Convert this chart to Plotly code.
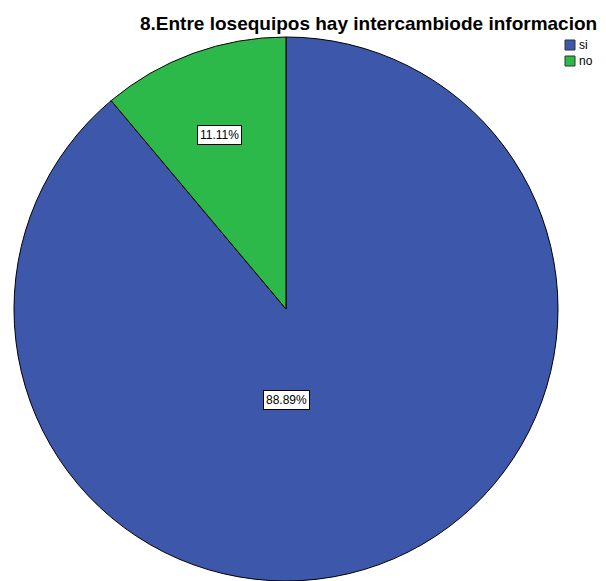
import math
import plotly.graph_objects as go

labels = ["si", "no"]
counts = [8, 1]
colors = ["#3d58ab", "#2db84a"]
title_text = "8.Entre losequipos hay intercambiode informacion"
label_radius = [0.37, 0.72]

# browser body margin of 8px shifts the figure; compensate
W, H = 598, 573
L, R, T, B = 3, 45, 29, 0
pw, ph = W - L - R, H - T - B
rad = min(pw, ph) / 2

def px(fx):
    return (fx - L) / pw

def py(fy):
    return 1 - (fy - T) / ph

total = sum(counts)
fig = go.Figure(go.Pie(
    labels=labels, values=counts, sort=False, direction="clockwise", rotation=0,
    marker=dict(colors=colors, line=dict(color="black", width=1)),
    textinfo="none", hoverinfo="label+percent", showlegend=False,
))

annotations = []
shapes = []
start = 0.0
for i, (lab, c, rf, col) in enumerate(zip(labels, counts, label_radius, colors)):
    frac = c / total
    mid = (start + frac / 2) * 2 * math.pi
    start += frac
    if frac > 0.5:
        xs, ys = 0.5, 0.5 - rad * rf / ph
    else:
        xs = 0.5 + rad * rf * math.sin(mid) / pw
        ys = 0.5 + rad * rf * math.cos(mid) / ph
    annotations.append(dict(
        x=xs, y=ys, xref="paper", yref="paper", showarrow=False,
        text=f"{frac*100:.2f}%", font=dict(family="Liberation Sans, Arial", size=12, color="black"),
        bgcolor="white", bordercolor="black", borderwidth=1, borderpad=2,
    ))
    top = 32 + 16 * i
    shapes.append(dict(type="rect", xref="paper", yref="paper",
                       x0=px(557), x1=px(567), y0=py(top), y1=py(top + 10),
                       fillcolor=col, line=dict(color="#333333", width=1)))
    annotations.append(dict(x=px(569), y=py(top + 5), xref="paper", yref="paper",
                            xanchor="left", yanchor="middle", showarrow=False, text=lab,
                            font=dict(family="Liberation Sans, Arial", size=12, color="black")))

annotations.append(dict(x=px(591), y=py(15), xref="paper", yref="paper",
                        xanchor="right", yanchor="middle", showarrow=False,
                        text=f"<b>{title_text}</b>",
                        font=dict(family="Liberation Sans, Arial", size=19, color="black")))

fig.update_layout(
    width=W, height=H, margin=dict(l=L, r=R, t=T, b=B),
    paper_bgcolor="white", plot_bgcolor="white",
    showlegend=False,
    annotations=annotations,
    shapes=shapes,
)
fig.write_html("out.html")
